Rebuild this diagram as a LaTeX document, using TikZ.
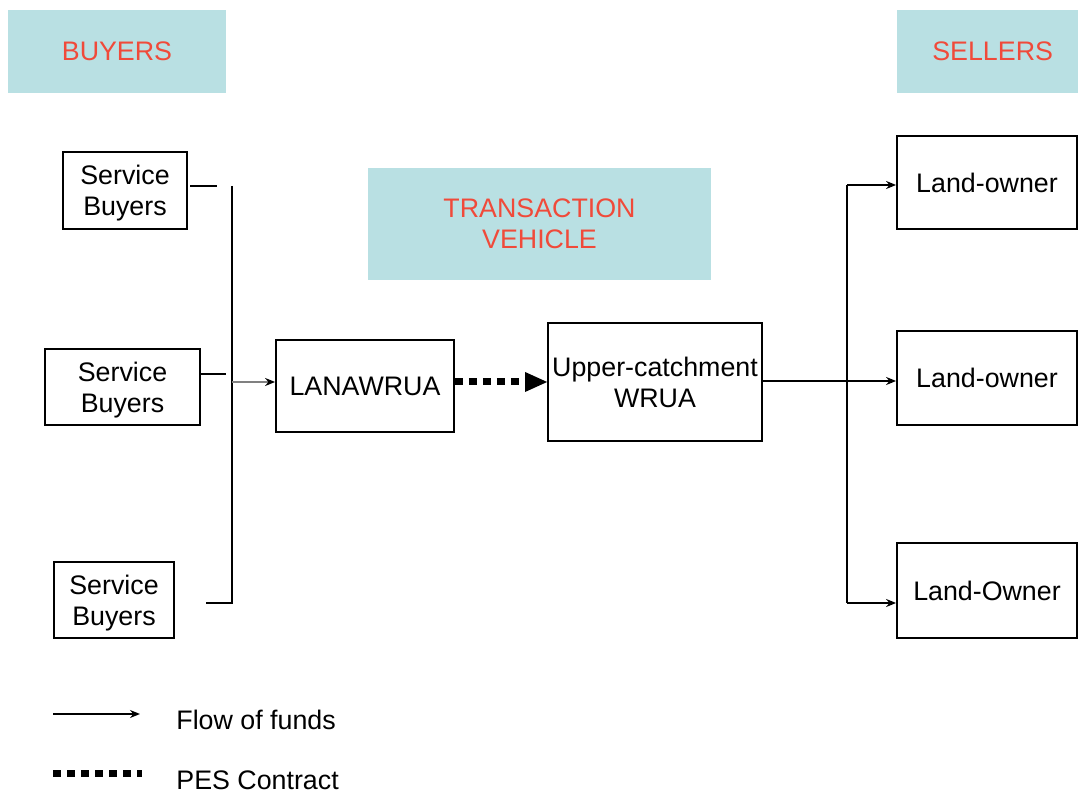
\documentclass[tikz,border=0pt]{standalone}
\usepackage{fontspec}
\setmainfont{Liberation Sans}
\usetikzlibrary{arrows.meta}
\definecolor{hdrfill}{HTML}{B9E0E3}
\definecolor{hdrtext}{HTML}{F04A3A}
\begin{document}
\begin{tikzpicture}[x=0.5pt,y=-0.5pt,
  every node/.style={font=\fontsize{13.4}{15.5}\selectfont},
  box/.style={draw=black,line width=0.9pt,inner sep=0pt,align=center,text depth=-2pt},
  hdr/.style={fill=hdrfill,inner sep=0pt,align=center,text=hdrtext},
  funds/.style={line width=0.8pt,-{Stealth[length=5pt,width=4pt,color=black]}},
  plain/.style={line width=0.9pt},
  pes/.style={line width=3.5pt,dash pattern=on 4pt off 3pt},
]
\useasboundingbox (0,0) rectangle (1078,796);
% headers
\node[hdr,minimum width=109pt,minimum height=41.5pt] (buy) at (117,51.5) {BUYERS};
\node[hdr,minimum width=90.5pt,minimum height=41.5pt,text width=65.5pt,align=right] (sel) at (987.5,51.5) {SELLERS};
\node[hdr,minimum width=171.5pt,minimum height=56pt] (tv) at (539.5,224) {TRANSACTION\\VEHICLE};
% buyers
\node[box,minimum width=62pt,minimum height=38.5pt] (sb1) at (125,190.5) {Service\\Buyers};
\node[box,minimum width=77.5pt,minimum height=38pt] (sb2) at (122.5,387) {Service\\Buyers};
\node[box,minimum width=60pt,minimum height=38pt] (sb3) at (114,600) {Service\\Buyers};
% center
\node[box,minimum width=89pt,minimum height=46pt] (lan) at (365,386) {LANAWRUA};
\node[box,minimum width=107pt,minimum height=59pt] (upc) at (655,382) {Upper-catchment\\WRUA};
% sellers
\node[box,minimum width=90pt,minimum height=46.5pt] (lo1) at (987,182.5) {Land-owner};
\node[box,minimum width=90pt,minimum height=47pt] (lo2) at (987,378) {Land-owner};
\node[box,minimum width=90pt,minimum height=47.5pt] (lo3) at (987,590.5) {Land-Owner};
% buyer connectors
\coordinate (s1a) at (190,186);
\coordinate (s1b) at (217,186);
\coordinate (s2b) at (226,374);
\coordinate (vt) at (232,186);
\coordinate (vm) at (232,382);
\coordinate (vb) at (232,603);
\coordinate (s3a) at (206,603);
\draw[plain] (s1a) -- (s1b);
\draw[plain] (sb2.east |- s2b) -- (s2b);
\draw[plain] (vt) -- (vb) -- (s3a);
\draw[funds,draw=gray] (vm) -- (lan.west |- vm);
% PES contract
\draw[pes] (lan.east |- vm) -- ([xshift=-9pt]upc.west |- vm);
\fill ([xshift=-11pt]upc.west |- 0,372) -- (upc.west |- vm) -- ([xshift=-11pt]upc.west |- 0,392) -- cycle;
% seller connectors
\coordinate (j) at (847,381);
\coordinate (jt) at (847,185);
\coordinate (jb) at (847,603);
\draw[plain] (upc.east |- j) -- (j);
\draw[plain] (jt) -- (jb);
\draw[funds] (jt) -- (lo1.west |- jt);
\draw[funds] (j) -- (lo2.west |- j);
\draw[funds] (jb) -- (lo3.west |- jb);
% legend
\coordinate (l1a) at (53,714);
\coordinate (l1b) at (140,714);
\coordinate (l2a) at (53,774);
\coordinate (l2b) at (142,774);
\draw[funds] (l1a) -- (l1b);
\draw[pes] (l2a) -- (l2b);
\node[anchor=west,inner sep=0pt] (lg1) at (176,720) {Flow of funds};
\node[anchor=west,inner sep=0pt] (lg2) at (176,780) {PES Contract};
\end{tikzpicture}
\end{document}
